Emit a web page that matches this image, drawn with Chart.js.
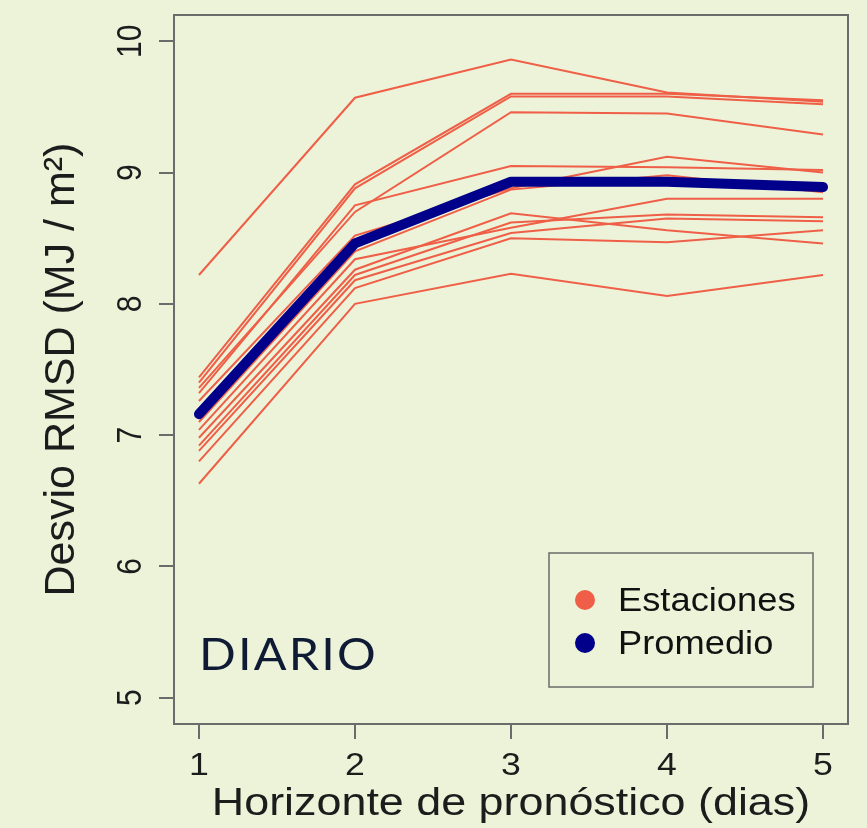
<!DOCTYPE html>
<html lang="es">
<head>
  <meta charset="UTF-8">
  <title>Desvio RMSD - Diario</title>
  <script src="https://cdn.jsdelivr.net/npm/chart.js"></script>
  <style>
        body {
            margin: 0;
            background: #edf3d9;
        }
        canvas {
            display: block;
        }
    </style>
</head>
<body>

<canvas id="rmsdChart" width="867" height="828"></canvas>

<script>
        // horizonte de pronostico (dias)
        const horizonte = [1, 2, 3, 4, 5];
        const yTicks = [5, 6, 7, 8, 9, 10];

        // una serie por estacion
        const est01 = [8.22, 9.57, 9.86, 9.61, 9.54];
        const est02 = [7.44, 8.91, 9.60, 9.60, 9.55];
        const est03 = [7.40, 8.88, 9.58, 9.58, 9.52];
        const est04 = [7.36, 8.70, 9.46, 9.45, 9.29];
        const est05 = [7.32, 8.75, 9.05, 9.04, 9.02];
        const est06 = [7.26, 8.52, 8.88, 9.12, 9.00];
        const est07 = [7.10, 8.40, 8.87, 8.98, 8.85];
        const est08 = [7.04, 8.34, 8.58, 8.80, 8.80];
        const est09 = [6.98, 8.26, 8.69, 8.56, 8.46];
        const est10 = [6.92, 8.22, 8.62, 8.68, 8.66];
        const est11 = [6.88, 8.18, 8.54, 8.65, 8.63];
        const est12 = [6.80, 8.12, 8.50, 8.47, 8.56];
        const est13 = [6.63, 8.00, 8.23, 8.06, 8.22];
        const estaciones = [est01, est02, est03, est04, est05, est06, est07,
                            est08, est09, est10, est11, est12, est13];

        const promedio = [7.16, 8.46, 8.93, 8.93, 8.89];

        const ROJO = '#ef5f47';
        const AZUL = '#00008b';
        const GRIS = '#6b6b6b';
        const TEXTO = '#1c1c1c';
        const FONDO = '#edf3d9';
        const SX = 1.15; // el texto del original esta estirado a lo ancho

        const toPoints = vals => vals.map((v, i) => ({ x: horizonte[i], y: v }));

        function txt(ctx, s, x, y, font, align, baseline, rot, sx) {
            ctx.save();
            ctx.translate(x, y);
            ctx.scale(sx || 1, 1);
            if (rot) ctx.rotate(-Math.PI / 2);
            ctx.font = font;
            ctx.textAlign = align;
            ctx.textBaseline = baseline;
            ctx.fillText(s, 0, 0);
            ctx.restore();
        }

        const fondoPlugin = {
            id: 'fondo',
            beforeDraw(chart) {
                const ctx = chart.ctx;
                ctx.save();
                ctx.fillStyle = FONDO;
                ctx.fillRect(0, 0, chart.width, chart.height);
                ctx.restore();
            }
        };

        const decoPlugin = {
            id: 'deco',
            afterDraw(chart) {
                const ctx = chart.ctx;
                const a = chart.chartArea;
                const xs = chart.scales.x;
                const ys = chart.scales.y;

                // caja del grafico
                ctx.save();
                ctx.strokeStyle = GRIS;
                ctx.lineWidth = 2;
                ctx.strokeRect(a.left, a.top, a.right - a.left, a.bottom - a.top);
                ctx.restore();

                ctx.fillStyle = TEXTO;
                // etiquetas de ejes
                horizonte.forEach(v => {
                    txt(ctx, String(v), xs.getPixelForValue(v), 775,
                        '31px "Liberation Sans"', 'center', 'alphabetic', false, SX);
                });
                yTicks.forEach(v => {
                    txt(ctx, String(v), 141, ys.getPixelForValue(v),
                        '30px "Liberation Sans"', 'center', 'alphabetic', true, SX);
                });

                // titulos
                txt(ctx, 'Horizonte de pronóstico (dias)', (a.left + a.right) / 2, 815,
                    '39px "Liberation Sans"', 'center', 'alphabetic', false, SX);
                txt(ctx, 'Desvio RMSD (MJ / m²)', 74, (a.top + a.bottom) / 2,
                    '43px "Liberation Sans"', 'center', 'alphabetic', true, 1);

                // leyenda
                ctx.save();
                ctx.strokeStyle = GRIS;
                ctx.lineWidth = 1.5;
                ctx.strokeRect(549, 553, 264, 134);
                ctx.fillStyle = ROJO;
                ctx.beginPath();
                ctx.arc(585, 600, 10, 0, Math.PI * 2);
                ctx.fill();
                ctx.fillStyle = AZUL;
                ctx.beginPath();
                ctx.arc(585, 643, 10, 0, Math.PI * 2);
                ctx.fill();
                ctx.restore();
                ctx.fillStyle = '#111';
                txt(ctx, 'Estaciones', 618, 611, '33px "Liberation Sans"', 'left', 'alphabetic', false, 1.1);
                txt(ctx, 'Promedio', 618, 654, '33px "Liberation Sans"', 'left', 'alphabetic', false, 1.1);

                // rotulo
                ctx.save();
                ctx.fillStyle = '#0f1b35';
                ctx.translate(199, 670);
                ctx.scale(1.1, 1);
                ctx.font = '44px Lato';
                ctx.letterSpacing = '2px';
                ctx.textAlign = 'left';
                ctx.textBaseline = 'alphabetic';
                ctx.fillText('DIARIO', 0, 0);
                ctx.restore();
            }
        };

        const datasets = [{
            label: 'Promedio',
            data: toPoints(promedio),
            borderColor: AZUL,
            borderWidth: 10,
            borderCapStyle: 'round',
            borderJoinStyle: 'round',
            pointRadius: 0,
            tension: 0
        }];
        estaciones.forEach((serie, i) => {
            datasets.push({
                label: 'Estacion ' + (i + 1),
                data: toPoints(serie),
                borderColor: ROJO,
                borderWidth: 2,
                pointRadius: 0,
                tension: 0
            });
        });

        const ejeGrid = {
            display: true,
            drawOnChartArea: false,
            drawTicks: true,
            tickLength: 15,
            lineWidth: 2,
            color: GRIS
        };

        new Chart(document.getElementById('rmsdChart').getContext('2d'), {
            type: 'line',
            data: { datasets: datasets },
            options: {
                responsive: false,
                animation: false,
                devicePixelRatio: 1,
                layout: { padding: { left: 0, right: 19, top: 15, bottom: 0 } },
                plugins: {
                    legend: { display: false },
                    tooltip: { enabled: false }
                },
                scales: {
                    x: {
                        type: 'linear',
                        min: 0.84,
                        max: 5.16,
                        grid: ejeGrid,
                        border: { display: false },
                        ticks: { display: false },
                        afterBuildTicks: s => { s.ticks = horizonte.map(v => ({ value: v })); },
                        afterFit: s => { s.height = 104; }
                    },
                    y: {
                        type: 'linear',
                        min: 4.8,
                        max: 10.2,
                        grid: ejeGrid,
                        border: { display: false },
                        ticks: { display: false },
                        afterBuildTicks: s => { s.ticks = yTicks.map(v => ({ value: v })); },
                        afterFit: s => { s.width = 174; }
                    }
                }
            },
            plugins: [fondoPlugin, decoPlugin]
        });
    </script>

</body>
</html>
